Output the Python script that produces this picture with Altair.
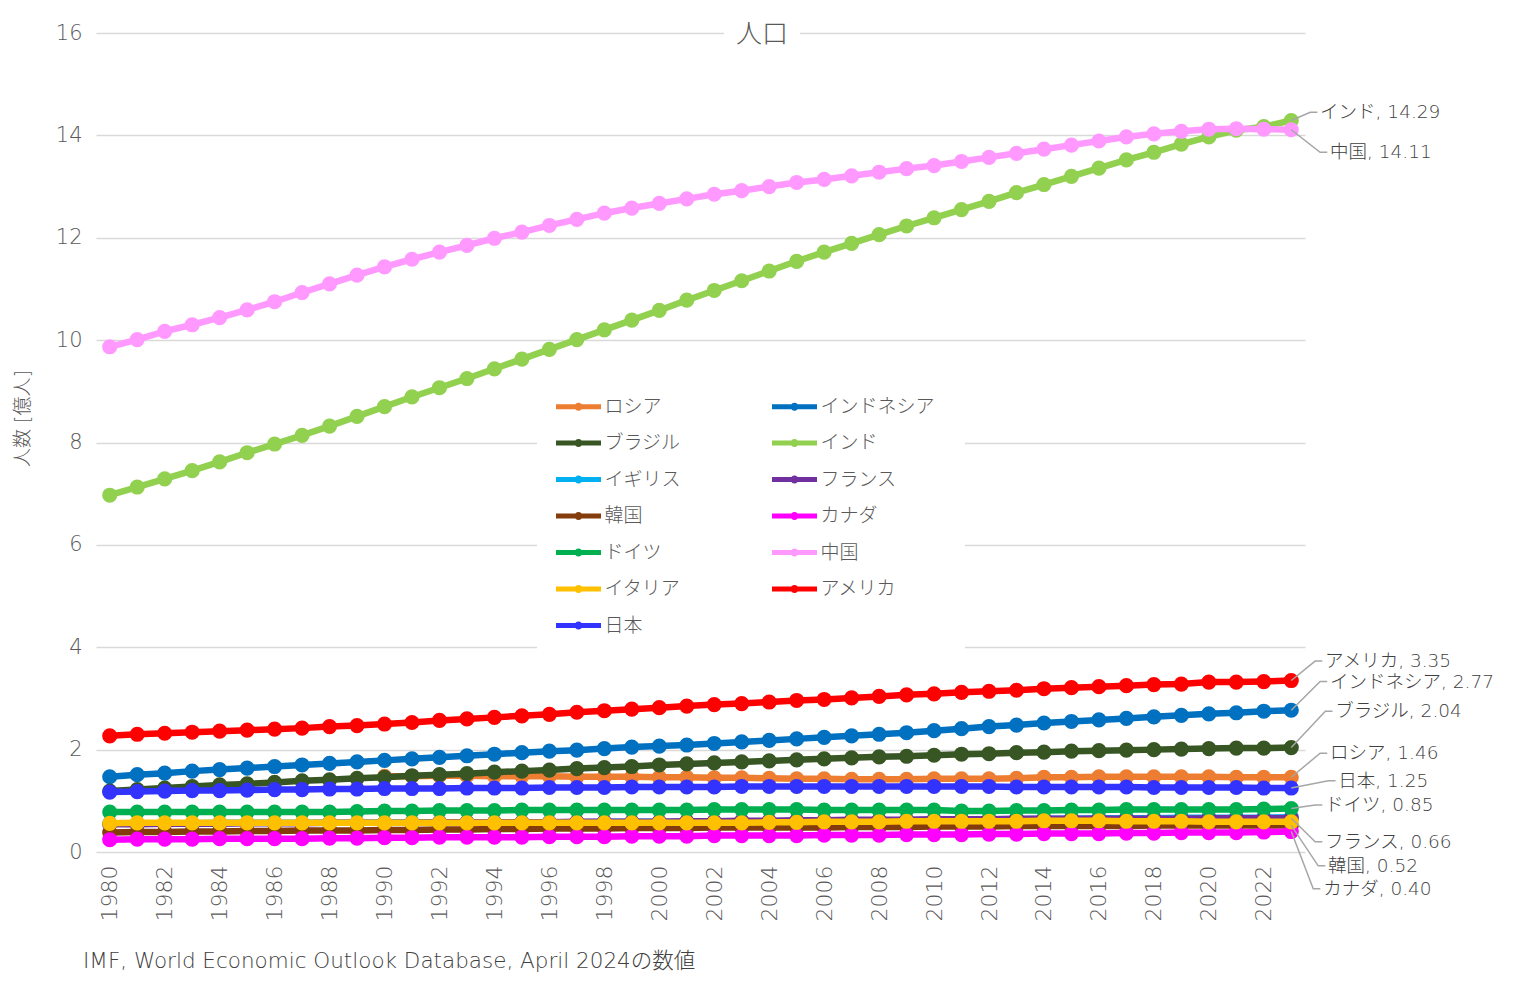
import altair as alt
import pandas as pd

FONT = "DejaVu Sans, Noto Sans CJK JP"
FW = 200

years = list(range(1980, 2024))

countries = ["ロシア", "インドネシア", "ブラジル", "インド", "イギリス", "フランス",
             "韓国", "カナダ", "ドイツ", "中国", "イタリア", "アメリカ", "日本"]
colors = ["#ED7D31", "#0070C0", "#375623", "#92D050", "#00B0F0", "#7030A0",
          "#843C0C", "#FF00FF", "#00B050", "#FF99FF", "#FFC000", "#FF0000", "#3333FF"]

russia = [None] * 10 + [
    1.48, 1.48, 1.49, 1.49, 1.48, 1.48, 1.48, 1.47, 1.47, 1.47,
    1.46, 1.46, 1.45, 1.45, 1.44, 1.43, 1.43, 1.42, 1.42, 1.42,
    1.43, 1.43, 1.43, 1.44, 1.46, 1.46, 1.47, 1.47, 1.47, 1.47,
    1.47, 1.46, 1.46, 1.46]
indonesia = [
    1.47, 1.51, 1.54, 1.58, 1.61, 1.64, 1.67, 1.70, 1.73, 1.76,
    1.79, 1.82, 1.85, 1.88, 1.91, 1.94, 1.97, 1.99, 2.02, 2.05,
    2.07, 2.09, 2.12, 2.15, 2.18, 2.21, 2.24, 2.27, 2.30, 2.33,
    2.37, 2.41, 2.45, 2.48, 2.52, 2.55, 2.58, 2.61, 2.64, 2.67,
    2.70, 2.72, 2.75, 2.77]
brazil = [
    1.19, 1.22, 1.25, 1.28, 1.31, 1.33, 1.36, 1.39, 1.41, 1.44,
    1.46, 1.49, 1.51, 1.53, 1.56, 1.58, 1.60, 1.63, 1.65, 1.67,
    1.70, 1.72, 1.74, 1.76, 1.78, 1.80, 1.82, 1.84, 1.86, 1.87,
    1.89, 1.91, 1.92, 1.94, 1.95, 1.97, 1.98, 1.99, 2.00, 2.01,
    2.02, 2.03, 2.03, 2.04]
india = [
    6.97, 7.13, 7.29, 7.45, 7.62, 7.80, 7.97, 8.14, 8.32, 8.51,
    8.70, 8.89, 9.07, 9.25, 9.44, 9.63, 9.82, 10.01, 10.20, 10.39,
    10.58, 10.78, 10.97, 11.16, 11.35, 11.54, 11.72, 11.89, 12.06, 12.23,
    12.39, 12.55, 12.71, 12.88, 13.04, 13.20, 13.36, 13.52, 13.67, 13.83,
    13.97, 14.10, 14.17, 14.29]
uk = [
    0.56, 0.56, 0.56, 0.56, 0.57, 0.57, 0.57, 0.57, 0.57, 0.57,
    0.57, 0.58, 0.58, 0.58, 0.58, 0.58, 0.58, 0.58, 0.59, 0.59,
    0.59, 0.59, 0.59, 0.60, 0.60, 0.60, 0.61, 0.61, 0.62, 0.62,
    0.63, 0.63, 0.64, 0.64, 0.65, 0.65, 0.66, 0.66, 0.66, 0.67,
    0.67, 0.67, 0.67, 0.68]
france = [
    0.54, 0.54, 0.55, 0.55, 0.55, 0.56, 0.56, 0.56, 0.57, 0.57,
    0.57, 0.57, 0.58, 0.58, 0.58, 0.58, 0.58, 0.59, 0.59, 0.59,
    0.59, 0.60, 0.60, 0.61, 0.61, 0.62, 0.62, 0.63, 0.63, 0.63,
    0.64, 0.64, 0.64, 0.65, 0.65, 0.65, 0.65, 0.65, 0.65, 0.65,
    0.66, 0.66, 0.66, 0.66]
korea = [
    0.38, 0.39, 0.39, 0.40, 0.40, 0.41, 0.41, 0.42, 0.42, 0.42,
    0.43, 0.43, 0.44, 0.44, 0.45, 0.45, 0.46, 0.46, 0.46, 0.47,
    0.47, 0.47, 0.48, 0.48, 0.48, 0.48, 0.48, 0.49, 0.49, 0.49,
    0.50, 0.50, 0.50, 0.51, 0.51, 0.51, 0.51, 0.51, 0.52, 0.52,
    0.52, 0.52, 0.52, 0.52]
canada = [
    0.24, 0.25, 0.25, 0.25, 0.26, 0.26, 0.26, 0.26, 0.27, 0.27,
    0.28, 0.28, 0.29, 0.29, 0.29, 0.29, 0.30, 0.30, 0.30, 0.31,
    0.31, 0.31, 0.32, 0.32, 0.32, 0.32, 0.33, 0.33, 0.33, 0.34,
    0.34, 0.34, 0.35, 0.35, 0.36, 0.36, 0.36, 0.37, 0.37, 0.38,
    0.38, 0.38, 0.39, 0.40]
germany = [
    0.78, 0.78, 0.78, 0.78, 0.78, 0.78, 0.78, 0.78, 0.78, 0.79,
    0.80, 0.80, 0.81, 0.81, 0.81, 0.82, 0.82, 0.82, 0.82, 0.82,
    0.82, 0.82, 0.83, 0.83, 0.83, 0.83, 0.82, 0.82, 0.82, 0.82,
    0.82, 0.80, 0.80, 0.81, 0.81, 0.82, 0.82, 0.83, 0.83, 0.83,
    0.83, 0.83, 0.84, 0.85]
china = [
    9.87, 10.01, 10.17, 10.30, 10.44, 10.59, 10.75, 10.93, 11.10, 11.27,
    11.43, 11.58, 11.72, 11.85, 11.99, 12.11, 12.24, 12.36, 12.48, 12.58,
    12.67, 12.76, 12.85, 12.92, 13.00, 13.08, 13.14, 13.21, 13.28, 13.35,
    13.41, 13.49, 13.57, 13.65, 13.73, 13.81, 13.89, 13.97, 14.03, 14.08,
    14.12, 14.13, 14.12, 14.11]
italy = [
    0.56, 0.57, 0.57, 0.57, 0.57, 0.57, 0.57, 0.57, 0.57, 0.57,
    0.57, 0.57, 0.57, 0.57, 0.57, 0.57, 0.57, 0.57, 0.57, 0.57,
    0.57, 0.57, 0.57, 0.57, 0.58, 0.58, 0.59, 0.59, 0.59, 0.60,
    0.60, 0.60, 0.60, 0.60, 0.61, 0.61, 0.61, 0.60, 0.60, 0.60,
    0.59, 0.59, 0.59, 0.59]
usa = [
    2.27, 2.30, 2.32, 2.34, 2.36, 2.38, 2.40, 2.42, 2.45, 2.47,
    2.50, 2.53, 2.57, 2.60, 2.63, 2.66, 2.69, 2.73, 2.76, 2.79,
    2.82, 2.85, 2.88, 2.90, 2.93, 2.96, 2.98, 3.01, 3.04, 3.07,
    3.09, 3.12, 3.14, 3.16, 3.19, 3.21, 3.23, 3.25, 3.27, 3.28,
    3.32, 3.32, 3.33, 3.35]
japan = [
    1.17, 1.18, 1.19, 1.20, 1.20, 1.21, 1.22, 1.22, 1.23, 1.23,
    1.24, 1.24, 1.24, 1.25, 1.25, 1.25, 1.26, 1.26, 1.26, 1.27,
    1.27, 1.27, 1.27, 1.28, 1.28, 1.28, 1.28, 1.28, 1.28, 1.28,
    1.28, 1.28, 1.28, 1.27, 1.27, 1.27, 1.27, 1.27, 1.26, 1.26,
    1.26, 1.26, 1.25, 1.25]

series = {
    "ロシア": russia, "インドネシア": indonesia, "ブラジル": brazil, "インド": india,
    "イギリス": uk, "フランス": france, "韓国": korea, "カナダ": canada,
    "ドイツ": germany, "中国": china, "イタリア": italy, "アメリカ": usa, "日本": japan,
}

# data-label layout (label anchor in data units), only for labelled series
label_layout = {
    "インド": (2024.05, 14.45),
    "中国": (2024.41, 13.67),
    "アメリカ": (2024.23, 3.73),
    "インドネシア": (2024.41, 3.33),
    "ブラジル": (2024.60, 2.75),
    "ロシア": (2024.41, 1.93),
    "日本": (2024.71, 1.39),
    "ドイツ": (2024.23, 0.92),
    "フランス": (2024.23, 0.20),
    "韓国": (2024.34, -0.27),
    "カナダ": (2024.16, -0.72),
}

title_text = "人口"
y_title = "人数 [億人]"
source_text = "IMF, World Economic Outlook Database, April 2024の数値"

rows = []
for c in countries:
    for yr, v in zip(years, series[c]):
        if v is not None:
            rows.append({"year": yr, "country": c, "value": v})
df = pd.DataFrame(rows)

lab_rows, lead_rows = [], []
for c, (lx, ly) in label_layout.items():
    last_v = series[c][-1]
    lab_rows.append({"country": c, "lx": lx, "ly": ly, "label": f"{c}, {last_v:.2f}"})
    lead_rows.append({"country": c, "i": 0, "x": years[-1], "y": last_v})
    lead_rows.append({"country": c, "i": 1, "x": lx - 0.36, "y": ly})
    lead_rows.append({"country": c, "i": 2, "x": lx - 0.1, "y": ly})
lab_df = pd.DataFrame(lab_rows)
lead_df = pd.DataFrame(lead_rows)

GRAY = "#595959"

X = alt.X("year:Q",
          scale=alt.Scale(domain=[1979.5, 2023.5], nice=False, zero=False),
          axis=alt.Axis(values=list(range(1980, 2023, 2)), format="d", labelAngle=-90,
                        grid=False, domain=False, ticks=False, labelPadding=13,
                        labelFontSize=22, labelColor=GRAY, labelFont=FONT,
                        labelFontWeight=FW, title=None))
Y = alt.Y("value:Q",
          scale=alt.Scale(domain=[0, 16], nice=False, zero=True),
          axis=alt.Axis(values=list(range(0, 17, 2)), grid=True, gridColor="#d9d9d9",
                        gridWidth=1.5, domain=False, ticks=False, labelPadding=14,
                        labelFontSize=21, labelColor=GRAY, labelFont=FONT,
                        labelFontWeight=FW,
                        title=y_title, titleFontSize=19, titleFontWeight=FW,
                        titleColor=GRAY, titleFont=FONT,
                        titleX=-74, titleY=385, titleAngle=270,
                        titleAlign="center", titleBaseline="middle"))

color_scale = alt.Scale(domain=countries, range=colors)

legend_symbol = ("M-2,-0.22 L2,-0.22 L2,0.22 L-2,0.22 Z "
                 "M0.36,0 A0.36,0.36 0 1,1 -0.36,0 A0.36,0.36 0 1,1 0.36,0 Z")

legend = alt.Legend(orient="none", legendX=441, legendY=332, columns=2,
                    direction="horizontal",
                    symbolType=legend_symbol, symbolSize=506, symbolStrokeWidth=0,
                    symbolOpacity=1,
                    labelFontSize=19, labelFont=FONT, labelColor=GRAY, labelOffset=14.5,
                    labelFontWeight=FW,
                    columnPadding=91, rowPadding=14.5, fillColor="white", padding=30,
                    title=None, labelLimit=300)

COLOR = alt.Color("country:N", scale=color_scale, legend=legend)

layers = []
for c in countries:
    sub = alt.Chart(df).transform_filter(alt.datum.country == c)
    layers.append(sub.mark_line(strokeWidth=6.5).encode(x=X, y=Y, color=COLOR))
    layers.append(sub.mark_circle(size=230, opacity=1).encode(x=X, y=Y, color=COLOR))

leaders = alt.Chart(lead_df).mark_line(color="#a6a6a6", strokeWidth=1.5).encode(
    x="x:Q", y="y:Q", detail="country:N", order="i:Q")
labels = alt.Chart(lab_df).mark_text(align="left", baseline="middle", fontSize=18.5,
                                      font=FONT, fontWeight=FW, color="#404040").encode(
    x="lx:Q", y="ly:Q", text="label:N")

title_bg = alt.Chart(pd.DataFrame({"t": [title_text]})).mark_rect(color="white").encode(
    x=alt.value(628), x2=alt.value(704), y=alt.value(-14), y2=alt.value(18))
title = alt.Chart(pd.DataFrame({"t": [title_text]})).mark_text(
    fontSize=26, font=FONT, fontWeight=FW, color=GRAY, align="center",
    baseline="middle").encode(x=alt.value(666), y=alt.value(2), text="t:N")
source = alt.Chart(pd.DataFrame({"t": [source_text]})).mark_text(
    fontSize=21.5, font=FONT, fontWeight=FW, color="#404040", align="left",
    baseline="middle").encode(x=alt.value(-13), y=alt.value(929), text="t:N")

chart = alt.layer(*layers, leaders, labels, title_bg, title, source).properties(
    width=1209, height=819,
    autosize=alt.AutoSizeParams(type="none"),
    padding={"left": 88, "top": 25, "right": 210, "bottom": 140},
).configure(font=FONT, view=alt.ViewConfig(stroke=None))

chart.save("out.html", embed_options={"renderer": "svg", "actions": False})
